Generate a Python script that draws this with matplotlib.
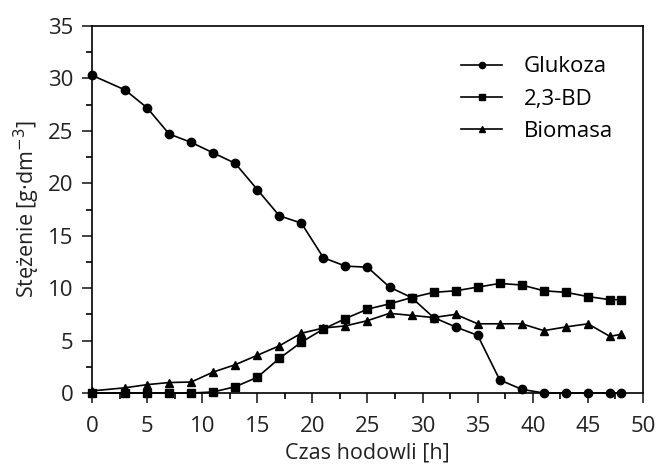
import numpy as np
import matplotlib
matplotlib.use("Agg")
import matplotlib.pyplot as plt
from matplotlib.ticker import MultipleLocator

plt.rcParams['font.family'] = ['Open Sans', 'DejaVu Sans']

# czas hodowli [h]
czas = [0, 3, 5, 7, 9, 11, 13, 15, 17, 19, 21, 23, 25, 27, 29, 31, 33, 35,
        37, 39, 41, 43, 45, 47, 48]
glukoza = [30.3, 28.9, 27.2, 24.7, 23.9, 22.9, 21.9, 19.4, 16.9, 16.2, 12.9,
           12.1, 12.0, 10.1, 9.1, 7.2, 6.3, 5.5, 1.25, 0.35, 0, 0, 0, 0, 0]
bd = [0, 0, 0, 0, 0, 0.1, 0.6, 1.5, 3.3, 4.85, 6.1, 7.1, 8.0, 8.5, 9.1, 9.6,
      9.75, 10.1, 10.45, 10.3, 9.75, 9.6, 9.2, 8.9, 8.9]
biomasa = [0.2, 0.5, 0.8, 1.0, 1.05, 2.0, 2.7, 3.6, 4.5, 5.7, 6.2, 6.4, 6.9,
           7.6, 7.4, 7.2, 7.5, 6.6, 6.6, 6.6, 5.95, 6.3, 6.6, 5.4, 5.6]

fig = plt.figure(figsize=(6.59, 4.69), dpi=100)
ax = fig.add_axes([0.1396, 0.162, 0.8361, 0.7826])

ax.plot(czas, glukoza, '-o', color='black', lw=1.2, ms=6, label='Glukoza', clip_on=False, zorder=3)
ax.plot(czas, bd, '-s', color='black', lw=1.2, ms=6, label='2,3-BD', clip_on=False, zorder=3)
ax.plot(czas, biomasa, '-^', color='black', lw=1.2, ms=6, label='Biomasa', clip_on=False, zorder=3)

ax.set_xlim(0, 50)
ax.set_ylim(0, 35)
ax.xaxis.set_major_locator(MultipleLocator(5))
ax.xaxis.set_minor_locator(MultipleLocator(2.5))
ax.yaxis.set_major_locator(MultipleLocator(5))
ax.yaxis.set_minor_locator(MultipleLocator(2.5))
ax.tick_params(which='major', direction='out', length=7.5, width=1.2, pad=6,
               labelsize=16, colors='#222222')
ax.tick_params(axis='x', which='major', pad=9)
ax.tick_params(which='minor', direction='out', length=4.5, width=1.2)
for s in ax.spines.values():
    s.set_linewidth(1.2)

ax.set_xlabel('Czas hodowli [h]', fontsize=15.5, color='#222222', labelpad=4)
ax.set_ylabel('Stężenie [g·dm$^{-3}$]', fontsize=15.5, color='#222222', labelpad=4)

leg = ax.legend(loc='upper left', frameon=False, fontsize=16, markerscale=0.75,
                handlelength=1.85, handletextpad=0.95, labelspacing=0.5,
                borderpad=0, borderaxespad=0, bbox_to_anchor=(0.67, 0.917))

fig.savefig('out.png', dpi=100)
